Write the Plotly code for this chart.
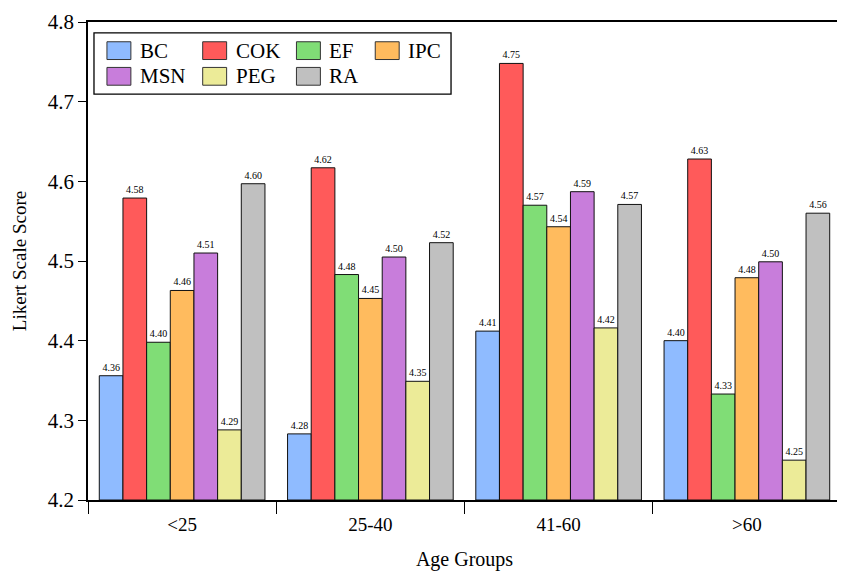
import plotly.graph_objects as go

age_groups = ["<25", "25-40", "41-60", ">60"]
series_names = ["BC", "COK", "EF", "IPC", "MSN", "PEG", "RA"]
bc = [4.356, 4.283, 4.412, 4.400]
cok = [4.579, 4.617, 4.748, 4.628]
ef = [4.398, 4.483, 4.570, 4.333]
ipc = [4.463, 4.453, 4.543, 4.479]
msn = [4.510, 4.505, 4.587, 4.499]
peg = [4.288, 4.349, 4.416, 4.250]
ra = [4.597, 4.523, 4.571, 4.560]
series_values = [bc, cok, ef, ipc, msn, peg, ra]
colors = ["#8FBBFF", "#FF5A5A", "#80DD76", "#FFBB5E", "#C87DDB", "#ECEB98", "#C0C0C0"]
y_ticks = [4.2, 4.3, 4.4, 4.5, 4.6, 4.7, 4.8]

FONT = "Liberation Serif"

W, H = 837, 565
ML, MR, MT, MB = 80, 2, 8, 73
PW, PH = W - ML - MR, H - MT - MB


def px(x):
    return (x - ML) / PW


def py(y):
    return 1 - (y - MT) / PH


fig = go.Figure()
for name, vals, col in zip(series_names, series_values, colors):
    fig.add_trace(go.Bar(
        x=age_groups, y=[v - 4.2 for v in vals], base=4.2, name=name,
        marker=dict(color=col, line=dict(color="#111111", width=1)),
        text=[f"{v:.2f}" for v in vals], textposition="outside",
        textfont=dict(family=FONT, size=10, color="black"),
        cliponaxis=False, constraintext="none", showlegend=False,
    ))

# manual legend (pixel positions in figure coordinates)
shapes = []
annotations = []
shapes.append(dict(type="rect", xref="paper", yref="paper",
                   x0=px(86), x1=px(444), y0=py(19), y1=py(81),
                   line=dict(color="black", width=1.3), fillcolor="white", layer="above"))
col_x = [99, 195, 289, 368]
row_y = [28, 54]
for i, (name, col) in enumerate(zip(series_names, colors)):
    r, c = divmod(i, 4)
    x0, y0 = col_x[c], row_y[r]
    shapes.append(dict(type="rect", xref="paper", yref="paper",
                       x0=px(x0), x1=px(x0 + 24), y0=py(y0), y1=py(y0 + 18),
                       line=dict(color="#333333", width=1), fillcolor=col, layer="above"))
    annotations.append(dict(xref="paper", yref="paper", x=px(x0 + 31), y=py(y0 + 9),
                            text=name, showarrow=False, xanchor="left", yanchor="middle",
                            font=dict(family=FONT, size=21, color="black")))

fig.update_layout(
    width=W, height=H,
    margin=dict(l=ML, r=MR, t=MT, b=MB),
    barmode="group", bargap=0.12, bargroupgap=0,
    plot_bgcolor="white", paper_bgcolor="white",
    font=dict(family=FONT, size=18, color="black"),
    showlegend=False,
    shapes=shapes, annotations=annotations,
)
fig.update_xaxes(
    showline=True, linecolor="black", linewidth=1.5, mirror=True,
    ticks="outside", tickson="boundaries", ticklen=12, tickcolor="black",
    ticklabelstandoff=6,
    tickfont=dict(family=FONT, size=19),
    title=dict(text="Age Groups", font=dict(family=FONT, size=20), standoff=18),
)
fig.update_yaxes(
    range=[4.2, 4.8], tickvals=y_ticks, ticktext=[str(t) for t in y_ticks],
    showline=True, linecolor="black", linewidth=1.5, mirror=True,
    ticks="outside", ticklen=8, tickcolor="black", showgrid=False, zeroline=False,
    ticklabeloverflow="allow",
    tickfont=dict(family=FONT, size=21),
    title=dict(text="Likert Scale Score", font=dict(family=FONT, size=19), standoff=16),
)

fig.write_html("out.html")
